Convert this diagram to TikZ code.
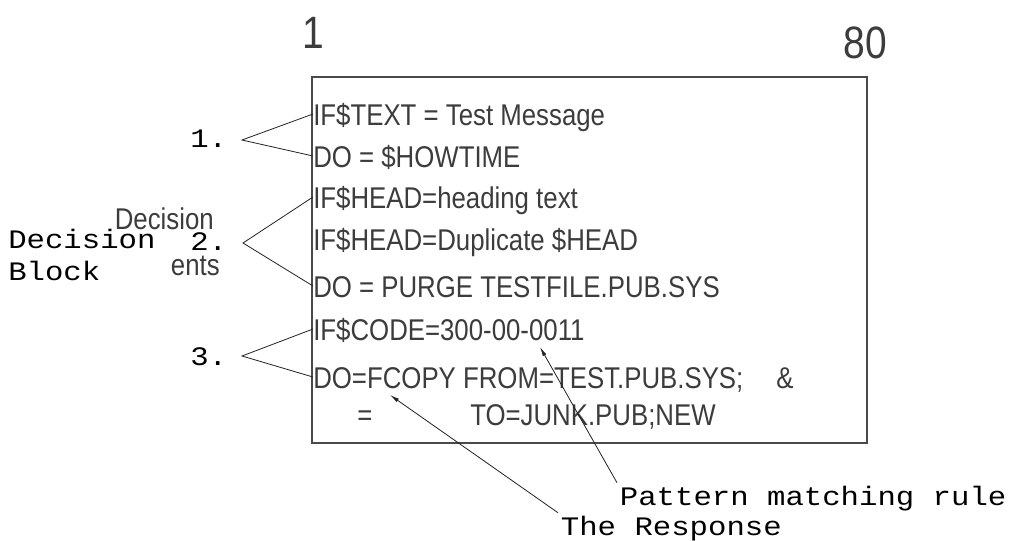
\documentclass[tikz,border=0pt]{standalone}
\usepackage{fontspec}
\usepackage{xcolor}
\usepackage{tikz}
\usetikzlibrary{arrows.meta, positioning, calc}
\newfontfamily\cadfont[FakeStretch=0.86]{Liberation Sans}
\newfontfamily\typefont[FakeStretch=1.15]{Liberation Mono}
\definecolor{framegray}{HTML}{4A4A4A}
\definecolor{inkgray}{HTML}{222222}
\definecolor{cadgray}{HTML}{3C3C3C}

\tikzset{
  codeline/.style={anchor=base west, inner sep=0pt, text height=16.5pt, text depth=0pt,
    text=cadgray, font=\cadfont\fontsize{22.5}{27}\selectfont},
  colnum/.style={anchor=base, inner sep=0pt, text=cadgray, font=\cadfont\fontsize{34}{40}\selectfont},
  marker/.style={anchor=base west, inner sep=0pt, font=\typefont\fontsize{20}{24}\selectfont},
  caption/.style={anchor=base west, inner sep=2pt, font=\typefont\fontsize{20}{24}\selectfont},
  frame/.style={draw=framegray, line width=0.9pt},
  bracket/.style={draw=inkgray, line width=0.6pt},
  pointer/.style={draw=inkgray, line width=0.6pt, -{Latex[length=7pt, width=3pt]}}
}

\begin{document}
\begin{tikzpicture}[x=0.75pt, y=-0.75pt]
    % page size
    \useasboundingbox (0,0) rectangle (1021,540);
    % column numbers
    \node[colnum] (col1) at (313,48) {1};
    \node[colnum] (col80) at (865,58) {80};
    % rule box
    \draw[frame] (312,77) rectangle (867,443);
    % rule lines
    \node[codeline] (l1) at (313,125) {IF\$TEXT = Test Message};
    \node[codeline] (l2) at (313,167) {DO = \$HOWTIME};
    \node[codeline] (l3) at (313,208) {IF\$HEAD=heading text};
    \node[codeline] (l4) at (313,250) {IF\$HEAD=Duplicate \$HEAD};
    \node[codeline] (l5) at (313,297) {DO = PURGE TESTFILE.PUB.SYS};
    \node[codeline] (l6) at (313,340) {IF\$CODE=300-00-0011};
    \node[codeline] (l7) at (313,388) {DO=FCOPY FROM=TEST.PUB.SYS;};
    \node[codeline] (amp) at (776,388) {\&};
    \node[codeline] (l8a) at (357,425) {=};
    \node[codeline] (l8b) at (470,425) {TO=JUNK.PUB;NEW};
    % decision numbers
    \node[marker] (n1) at (190,147) {1.};
    \node[marker] (n2) at (190,250) {2.};
    \node[marker] (n3) at (190,365) {3.};
    % side labels
    \node[marker] (decision) at (8,248) {Decision};
    \node[marker] (block) at (8,280) {Block};
    \node[codeline, anchor=base east] (elem1) at (214,229) {Decision};
    \node[codeline, anchor=base east] (elem2) at (220,275) {ents};
    % brackets
    \coordinate (tip1) at (242,140);
    \coordinate (tip2) at (243,243);
    \coordinate (tip3) at (242,356);
    \draw[bracket] (l1.west) -- (tip1) -- (l2.west);
    \draw[bracket] (l3.west) -- (tip2) -- (l5.west);
    \draw[bracket] (l6.west) -- (tip3) -- (l7.west);
    % callouts
    \node[caption] (pattern) at (617,505) {Pattern matching rule};
    \node[caption] (response) at (558,535) {The Response};
    \coordinate (ruletip) at (540,347);
    \coordinate (resptip) at (390,395);
    \draw[pointer] (pattern.north west) -- (ruletip);
    \draw[pointer] (response.north west) -- (resptip);
\end{tikzpicture}
\end{document}
